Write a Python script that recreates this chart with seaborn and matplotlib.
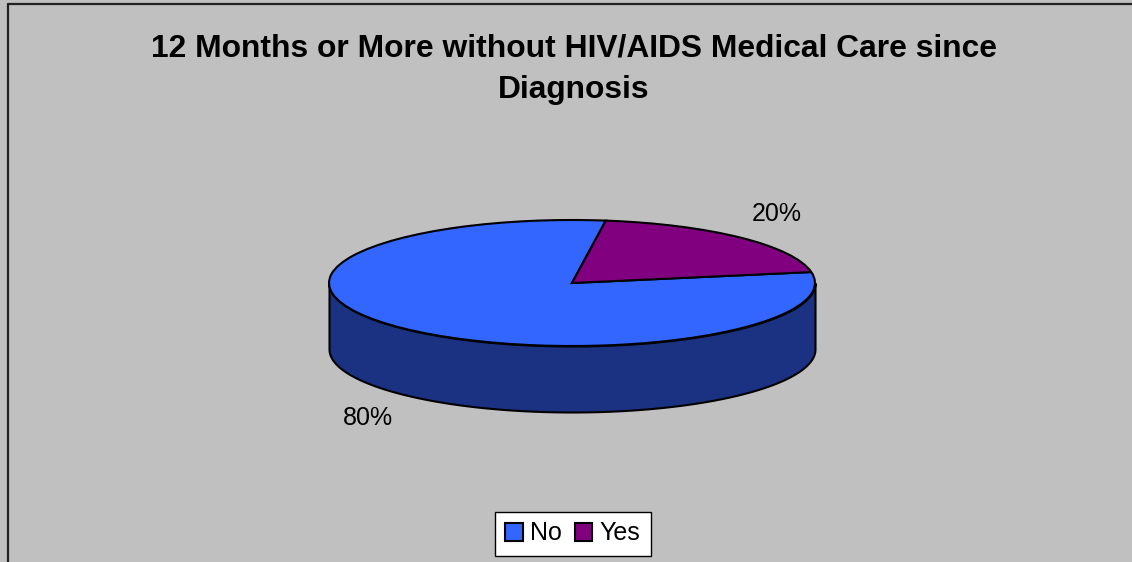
import numpy as np
import matplotlib
matplotlib.use("Agg")
import matplotlib.pyplot as plt
import seaborn as sns
from matplotlib.patches import Patch
from matplotlib.lines import Line2D

# ---- data ----
categories = ["No", "Yes"]
values = [80, 20]
pct_labels = ["80%", "20%"]
title = "12 Months or More without HIV/AIDS Medical Care since\nDiagnosis"

sns.set_style("white")
plt.rcParams['font.family'] = ['Liberation Sans', 'DejaVu Sans']
plt.rcParams['text.color'] = 'black'

W, H = 1132, 562
fig = plt.figure(figsize=(W / 100, H / 100), dpi=100, facecolor="#C0C0C0")
ax = fig.add_axes([0, 0, 1, 1])
ax.set_facecolor("#C0C0C0")

top_colors = ["#3366FF", "#800080"]
side_colors = ["#1B3282", "#400040"]

# geometry of the projected pie (pixels)
cx, cy, rx, ry, depth_px = 572, 283, 243, 63, 66
depth = depth_px / ry
startangle = 82

# side wall (front half of cylinder), built from slice angles
total = sum(values)
angles = [startangle]
for v in values:
    angles.append(angles[-1] + 360 * v / total)
for i, v in enumerate(values):
    a0, a1 = angles[i], angles[i + 1]
    t = np.radians(np.linspace(a0, a1, 400))
    t = t[np.sin(t) <= 0]
    if len(t) == 0:
        continue
    x = np.cos(t)
    y = np.sin(t)
    order = np.argsort(x)
    ax.fill_between(x[order], y[order] - depth, y[order], color=side_colors[i],
                    edgecolor="black", linewidth=1.5, zorder=1)

wedges, _ = ax.pie(values, colors=top_colors, startangle=startangle, counterclock=True,
                   radius=1, center=(0, 0),
                   wedgeprops=dict(edgecolor="black", linewidth=1.5))
for w in wedges:
    w.set_zorder(3)

ax.set_aspect("auto")
ax.set_xlim((0 - cx) / rx, (W - cx) / rx)
ax.set_ylim((cy - H) / ry, cy / ry)
ax.axis("off")

# percentage labels outside the slices
for i, lab in enumerate(pct_labels):
    mid = np.radians((angles[i] + angles[i + 1]) / 2)
    lx = 1.21 * np.cos(mid)
    ly = 1.53 * np.sin(mid) - (depth if np.sin(mid) < 0 else 0)
    ax.text(lx, ly, lab, ha="center", va="center", fontsize=18, color="black", zorder=5)

fig.text(574 / W, 1 - 69.5 / H, title, ha="center", va="center", fontsize=22.9,
         fontweight="bold", linespacing=1.5, color="black")

handles = [Patch(facecolor=c, edgecolor="black", linewidth=1.5) for c in top_colors]
leg = fig.legend(handles, categories, loc="lower center", bbox_to_anchor=(573 / W, -6 / H),
                 ncol=2, frameon=True, fancybox=False, edgecolor="black", facecolor="white",
                 fontsize=18, handlelength=0.7, handleheight=0.7, handletextpad=0.3,
                 columnspacing=0.5, borderpad=0.4, framealpha=1)
leg.get_frame().set_linewidth(1.0)
for txt in leg.get_texts():
    txt.set_color("black")

# chart-area border (left and top edges)
fig.add_artist(Line2D([7.5 / W, 7.5 / W], [0, 1 - 4 / H], transform=fig.transFigure,
                      color="#222222", linewidth=1.6))
fig.add_artist(Line2D([7.5 / W, 1.0], [1 - 4 / H, 1 - 4 / H], transform=fig.transFigure,
                      color="#222222", linewidth=1.6))

fig.savefig("out.png", dpi=100, facecolor=fig.get_facecolor())
